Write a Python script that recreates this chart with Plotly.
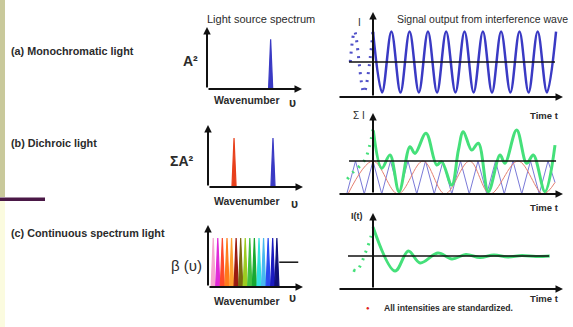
import plotly.graph_objects as go

W, H = 573, 327

# ---------------- data ----------------
# Light source spectra (wavenumber units 0..10, amplitude 0..1)
spec_a_nu = [6.7]
spec_a_amp = [0.80]
spec_a_col = ["#3a3ac4"]

spec_b_nu = [2.74, 6.84]
spec_b_amp = [0.79, 0.79]
spec_b_col = ["#e8401c", "#3a3ac4"]

spec_c_nu = [0.55, 1.03, 1.51, 2.0, 2.48, 2.96, 3.44, 3.92, 4.4, 4.88, 5.37, 5.85, 6.33, 6.81, 7.25]
spec_c_amp = [0.79, 0.79, 0.79, 0.79, 0.79, 0.79, 0.79, 0.79, 0.79, 0.79, 0.79, 0.79, 0.79, 0.79, 0.79]
spec_c_col = ["#f6a5cf", "#e02ad8", "#ff4a2a", "#ff7a1a", "#ffa030", "#9a1a10", "#7a6a10",
              "#9ccc20", "#40c040", "#18a830", "#30e0e0", "#48b8f0", "#2a4af0", "#1a1ac0", "#101078"]
beta_nu = [7.5, 9.5]
beta_val = [0.40, 0.40]

# (a) monochromatic interference signal: extrema
sig_a_t = [0, 0.52, 1.05, 1.57, 2.09, 2.62, 3.14, 3.66, 4.18, 4.71, 5.23, 5.75, 6.28, 6.80,
           7.32, 7.85, 8.37, 8.89, 9.41, 9.94, 10.46]
sig_a_I = [1.87, 0.13, 1.87, 0.13, 1.87, 0.13, 1.87, 0.13, 1.87, 0.13, 1.87,
           0.13, 1.87, 0.13, 1.87, 0.13, 1.87, 0.13, 1.87, 0.13, 1.87]
sig_a_dot_t = [-1.3, -1.05, -0.52, 0.0]
sig_a_dot_I = [1.0, 1.87, 0.13, 1.87]

# (b) dichroic: two components and their sum
sig_b_blue_t = [-1.5, -1.0, -0.5, 0, 0.5, 1, 1.5, 2, 2.5, 3, 3.5, 4, 4.5, 5, 5.5, 6, 6.5, 7,
                7.5, 8, 8.5, 9, 9.5, 10, 10.4]
sig_b_blue_I = [0, 1, 0, 1, 0, 1, 0, 1, 0, 1, 0, 1, 0, 1, 0, 1, 0, 1, 0, 1, 0, 1, 0, 1, 0.35]
sig_b_red_t = [-1.43, 0, 1.43, 2.86, 4.11, 5.52, 6.69, 8.29, 9.71, 10.4]
sig_b_red_I = [0, 1, 0, 1, 0, 1, 0, 1, 0, 0.35]
sig_b_green_t = [0.02, 0.5, 0.97, 1.49, 2.11, 2.4, 3.03, 3.64, 3.92, 4.5, 4.88, 5.16, 5.64, 6.02,
                 6.59, 7.26, 7.54, 8.21, 8.78, 9.16, 9.83, 10.4]
sig_b_green_I = [1.92, 0.78, 1.18, 0.07, 1.43, 1.23, 1.84, 0.88, 0.98, 0.27, 1.33, 1.89, 1.33, 1.54,
                 0.07, 1.18, 0.93, 1.94, 0.93, 1.18, 0.07, 1.48]
sig_b_dot_t = [-1.47, -1.1, -0.75, -0.45, -0.2, 0]
sig_b_dot_I = [0.45, 0.68, 0.85, 1.05, 1.45, 1.95]

# (c) continuous spectrum: damped signal
sig_c_t = [0, 1.26, 2.02, 2.69, 3.71, 4.51, 5.31, 6.11, 6.91, 7.71, 8.51, 9.31, 10.1]
sig_c_I = [1.88, 0.545, 1.15, 0.79, 1.09, 0.91, 1.045, 0.955, 1.03, 0.97, 1.015, 0.985, 1.0]
sig_c_dot_t = [-1.13, -0.93, -0.65, -0.46, -0.27, -0.13, -0.04]
sig_c_dot_I = [0.58, 0.55, 0.80, 1.06, 1.33, 1.57, 1.74]

# ---------------- layout helpers ----------------
def px(x):
    return x / W

def py(y):
    return 1 - y / H

BLACK = "#111111"
TXT = "#2b2b2b"
FONT = "Liberation Sans, Arial, sans-serif"
GREEN = "#45e07a"
BLUE = "#3a3ac4"

fig = go.Figure()

panels = {
    "1": ([207, 302], [27, 89], [0, 10], [0, 1]),
    "2": ([208, 303], [125, 187], [0, 10], [0, 1]),
    "3": ([208, 303], [225, 287], [0, 10], [0, 1]),
    "4": ([338, 563], [12, 97], [-2.0, 10.857], [0, 85 / 35]),
    "5": ([338, 563], [113, 194], [-2.0, 10.857], [0, 81 / 33]),
    "6": ([338, 563], [213, 289], [-2.0, 10.857], [0, 76 / 33]),
}
for k, (xd, yd, xr, yr) in panels.items():
    xa = "xaxis" if k == "1" else "xaxis" + k
    ya = "yaxis" if k == "1" else "yaxis" + k
    xid = "x" if k == "1" else "x" + k
    yid = "y" if k == "1" else "y" + k
    fig.layout[xa] = dict(domain=[px(xd[0]), px(xd[1])], range=xr, visible=False, anchor=yid, fixedrange=True)
    fig.layout[ya] = dict(domain=[py(yd[1]), py(yd[0])], range=yr, visible=False, anchor=xid, fixedrange=True)

def ref(k):
    return ("x" if k == "1" else "x" + k), ("y" if k == "1" else "y" + k)

HALF = 0.22  # half base width of spectral lines

def add_peaks(k, nus, amps, cols):
    xr, yr = ref(k)
    for nu, a, c in zip(nus, amps, cols):
        fig.add_trace(go.Scatter(x=[nu - HALF, nu, nu + HALF], y=[0, a, 0], mode="lines",
                                 fill="toself", fillcolor=c, line=dict(color=c, width=1.2),
                                 xaxis=xr, yaxis=yr, showlegend=False, hoverinfo="skip"))

add_peaks("1", spec_a_nu, spec_a_amp, spec_a_col)
add_peaks("2", spec_b_nu, spec_b_amp, spec_b_col)
add_peaks("3", spec_c_nu, spec_c_amp, spec_c_col)
fig.add_trace(go.Scatter(x=beta_nu, y=beta_val, mode="lines", line=dict(color=BLACK, width=1.5),
                         xaxis="x3", yaxis="y3", showlegend=False, hoverinfo="skip"))

def line(k, t, I, color, width, shape="spline", dash=None):
    xr, yr = ref(k)
    fig.add_trace(go.Scatter(x=t, y=I, mode="lines",
                             line=dict(color=color, width=width, shape=shape, dash=dash, smoothing=1.0),
                             xaxis=xr, yaxis=yr, showlegend=False, hoverinfo="skip"))

# signal (a)
line("4", sig_a_t, sig_a_I, BLUE, 2.5)
line("4", sig_a_dot_t, sig_a_dot_I, "#5050c8", 3, dash="2px,6px")
# signal (b)
line("5", sig_b_blue_t, sig_b_blue_I, "#7a7ad8", 1, shape="linear")
line("5", sig_b_red_t, sig_b_red_I, "#e58070", 1)
line("5", sig_b_green_t, sig_b_green_I, GREEN, 3)
line("5", sig_b_dot_t, sig_b_dot_I, GREEN, 3, dash="2px,6px")
# signal (c)
line("6", sig_c_t, sig_c_I, GREEN, 3)
line("6", sig_c_dot_t, sig_c_dot_I, GREEN, 3, dash="2px,6px")

# ---------------- axes (arrows) ----------------
ann = []

def arrow(k, x0, y0, x1, y1, w=2):
    xr, yr = ref(k)
    ann.append(dict(x=x1, y=y1, ax=x0, ay=y0, xref=xr, yref=yr, axref=xr, ayref=yr,
                    showarrow=True, arrowhead=2, arrowsize=0.75, arrowwidth=w,
                    arrowcolor=BLACK, text=""))

for k in ["1", "2", "3"]:
    arrow(k, 0, 0, 0, 1)
    arrow(k, 0, 0, 10, 0)
for k in ["4", "5", "6"]:
    xd, yd, xr_, yr_ = panels[k]
    arrow(k, xr_[0], 0, xr_[1], 0)
    arrow(k, 0, 0, 0, yr_[1])

shapes = []
for k, (x0, x1) in {"4": (-1.37, 10.4), "5": (-1.37, 10.46), "6": (-1.43, 10.06)}.items():
    xr, yr = ref(k)
    shapes.append(dict(type="line", xref=xr, yref=yr, x0=x0, x1=x1, y0=1, y1=1,
                       line=dict(color=BLACK, width=1.5)))

# left decorative strip
shapes.append(dict(type="rect", xref="paper", yref="paper", x0=0, x1=px(5), y0=py(197), y1=1,
                   fillcolor="#c9c99b", line=dict(width=0), layer="below"))
shapes.append(dict(type="rect", xref="paper", yref="paper", x0=0, x1=px(5), y0=0, y1=py(201),
                   fillcolor="#fbfbdf", line=dict(width=0), layer="below"))
shapes.append(dict(type="rect", xref="paper", yref="paper", x0=0, x1=px(45), y0=py(201), y1=py(197.5),
                   fillcolor="#4a1846", line=dict(width=0)))

# ---------------- texts ----------------
def text(s, x, y, size=9, bold=False, anchor="left", color=TXT, family=FONT):
    ann.append(dict(text=("<b>%s</b>" % s) if bold else s, x=px(x), y=py(y), xref="paper", yref="paper",
                    xanchor=anchor, yanchor="middle", showarrow=False, borderpad=0,
                    font=dict(size=size, color=color, family=family)))

text("(a) Monochromatic light", 10, 51, 10.8, True)
text("(b) Dichroic light", 10, 143, 10.8, True)
text("(c) Continuous spectrum light", 10, 233, 10.8, True)

text("Light source spectrum", 206, 19, 11)
text("Signal output from interference wave", 396, 19, 10.5)

text("A²", 190, 61, 14, True, "center")
text("ΣA²", 182, 161, 14, True, "center")
text("β (υ)", 186, 265, 15, False, "center")

for yy in [100, 201, 301]:
    text("Wavenumber", 213, yy, 10.5, True)
text("υ", 292, 103, 12, True, "center")
text("υ", 294, 204, 12, True, "center")
text("υ", 292, 298, 12, True, "center")

text("I", 359, 23, 10, False, "center")
text("Σ I", 359, 115, 10, False, "center")
text("I(t)", 357, 216, 9, True, "center")

text("Time t", 529, 115, 9.5, True)
text("Time t", 529, 207, 9.5, True)
text("Time t", 529, 298, 9.5, True)

text("●", 368, 308, 6, False, "center", color="#e02020")
text("All intensities are standardized.", 383, 308, 8.6, True)

fig.update_layout(width=W, height=H, margin=dict(l=0, r=0, t=0, b=0),
                  paper_bgcolor="white", plot_bgcolor="rgba(0,0,0,0)",
                  annotations=ann, shapes=shapes, showlegend=False)

fig.write_html("out.html", config={"displayModeBar": False, "staticPlot": True},
               post_script="document.body.style.margin='0';document.body.style.overflow='hidden';")
